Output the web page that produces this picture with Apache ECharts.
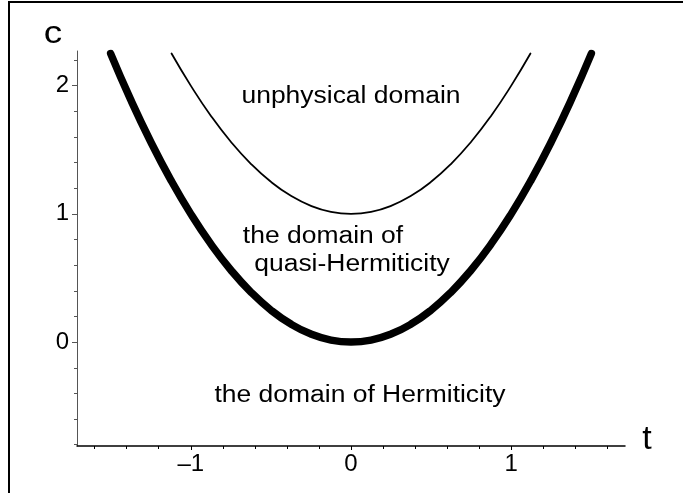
<!DOCTYPE html>
<html>
<head>
<meta charset="utf-8">
<script src="https://cdn.jsdelivr.net/npm/echarts@6.0.0/dist/echarts.min.js"></script>
<style>
  html, body { margin: 0; padding: 0; background: #fff; }
  #chart { width: 683px; height: 493px; }
</style>
</head>
<body>
<div id="chart"></div>
<script>
// thick curve: boundary of Hermiticity (c)
const boundT = [-1.5, -1.375, -1.25, -1.125, -1, -0.875, -0.75, -0.625, -0.5, -0.375, -0.25, -0.125, 0,
  0.125, 0.25, 0.375, 0.5, 0.625, 0.75, 0.875, 1, 1.125, 1.25, 1.375, 1.5];
const boundC = [2.25, 1.8906, 1.5625, 1.2656, 1, 0.7656, 0.5625, 0.3906, 0.25, 0.1406, 0.0625, 0.0156, 0,
  0.0156, 0.0625, 0.1406, 0.25, 0.3906, 0.5625, 0.7656, 1, 1.2656, 1.5625, 1.8906, 2.25];
// thin curve: edge of the unphysical domain
const edgeT = [-1.12, -1, -0.875, -0.75, -0.625, -0.5, -0.375, -0.25, -0.125, 0,
  0.125, 0.25, 0.375, 0.5, 0.625, 0.75, 0.875, 1, 1.12];
const edgeC = [2.25, 2, 1.7656, 1.5625, 1.3906, 1.25, 1.1406, 1.0625, 1.0156, 1,
  1.0156, 1.0625, 1.1406, 1.25, 1.3906, 1.5625, 1.7656, 2, 2.25];

// tick labels and minor ticks
const xTickLabels = [-1, 0, 1];
const xMinorTicks = [-1.6, -1.4, -1.2, -0.8, -0.6, -0.4, -0.2, 0.2, 0.4, 0.6, 0.8, 1.2, 1.4, 1.6];
const yTickLabels = [0, 1, 2];
const yMinorTicks = [-0.8, -0.6, -0.4, -0.2, 0.2, 0.4, 0.6, 0.8, 1.2, 1.4, 1.6, 1.8, 2.2];

const FONT = 'Liberation Sans';

const myChart = echarts.init(document.getElementById('chart'), null, { renderer: 'canvas' });

function pairs(xs, ys) {
  return xs.map((x, i) => [x, ys[i]]);
}

function label(text, x, y, size, sx) {
  return {
    type: 'text',
    x: x,
    y: y,
    scaleX: sx || 1.15,
    z: 10,
    style: {
      text: text,
      fontSize: size,
      fontFamily: FONT,
      fill: '#000',
      align: 'center',
      verticalAlign: 'middle',
      textAlign: 'center',
      textVerticalAlign: 'middle'
    }
  };
}

const xBase = {
  type: 'value',
  min: -1.71,
  max: 1.71,
  position: 'bottom',
  splitLine: { show: false }
};
const yBase = {
  type: 'value',
  min: -0.81,
  max: 2.27,
  position: 'left',
  splitLine: { show: false }
};

const options = {
  animation: false,
  backgroundColor: '#fff',
  textStyle: { fontFamily: FONT },
  grid: { left: 77, right: 58, top: 51, bottom: 47, containLabel: false, outerBoundsMode: 'none' },
  xAxis: [
    Object.assign({}, xBase, {
      axisLine: { onZero: false, lineStyle: { color: '#000', width: 1.5 } },
      axisTick: { customValues: xTickLabels, length: 4, lineStyle: { color: '#000' } },
      axisLabel: {
        customValues: xTickLabels,
        margin: 6,
        color: '#000',
        fontSize: 24,
        fontFamily: FONT,
        formatter: v => (v < 0 ? '\u2013' + Math.abs(v) : String(v))
      }
    }),
    Object.assign({}, xBase, {
      axisLine: { show: false, onZero: false },
      axisTick: { customValues: xMinorTicks, length: 3, lineStyle: { color: '#000' } },
      axisLabel: { show: false }
    })
  ],
  yAxis: [
    Object.assign({}, yBase, {
      axisLine: { onZero: false, lineStyle: { color: '#555', width: 1 } },
      axisTick: { customValues: yTickLabels, length: 5, lineStyle: { color: '#555' } },
      axisLabel: {
        customValues: yTickLabels,
        margin: 8,
        color: '#000',
        fontSize: 24,
        fontFamily: FONT
      }
    }),
    Object.assign({}, yBase, {
      axisLine: { show: false, onZero: false },
      axisTick: { customValues: yMinorTicks, length: 3, lineStyle: { color: '#555' } },
      axisLabel: { show: false }
    })
  ],
  series: [
    {
      name: 'Hermiticity boundary',
      type: 'line',
      xAxisIndex: 0,
      yAxisIndex: 0,
      data: pairs(boundT, boundC),
      smooth: 0.5,
      showSymbol: false,
      clip: false,
      lineStyle: { color: '#000', width: 7.5, cap: 'round', join: 'round' }
    },
    {
      name: 'unphysical boundary',
      type: 'line',
      xAxisIndex: 0,
      yAxisIndex: 0,
      data: pairs(edgeT, edgeC),
      smooth: 0.5,
      showSymbol: false,
      clip: false,
      lineStyle: { color: '#000', width: 1.8, cap: 'round' }
    }
  ],
  graphic: [
    // frame (left and top edges only)
    {
      type: 'polyline',
      shape: { points: [[9, 493], [9, 2], [683, 2]] },
      style: { stroke: '#000', lineWidth: 2, fill: null }
    },
    label('c', 53, 34, 32),
    label('t', 647, 440, 34, 1),
    label('unphysical domain', 351, 97, 23),
    label('the domain of', 323, 237, 23),
    label('quasi-Hermiticity', 352, 265, 23),
    label('the domain of Hermiticity', 360, 396, 23)
  ]
};

myChart.setOption(options);
</script>
</body>
</html>
